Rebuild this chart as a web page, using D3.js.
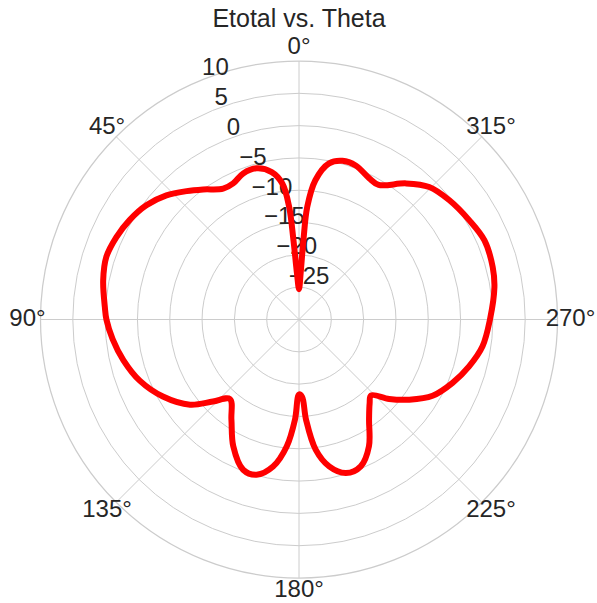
<!DOCTYPE html>
<html>
<head>
<meta charset="utf-8">
<script src="https://d3js.org/d3.v7.min.js"></script>
<style>
  html, body { margin: 0; padding: 0; background: #fff; }
  svg text { font-family: "Liberation Sans", Arial, sans-serif; fill: #262626; }
</style>
</head>
<body>
<div id="chart"></div>
<script>
// angle (deg, counter-clockwise from top) and Etotal (dB)
const thetaDeg = [
  0, 2.5, 4.0, 5.0, 7.0, 10.5, 15.7, 20.9, 25.8, 30.1, 36.4, 41.2, 46.9, 53.2, 59.6,
  65.7, 72.0, 78.7, 86.4, 90.0, 96.0, 103.0, 111.0, 119.5, 128.0, 133.6, 139.0,
  146.0, 152.6, 159.6, 164.7, 170.0, 174.5, 177.7, 180.0, 182.3, 184.0, 187.3,
  191.6, 197.0, 202.8, 208.9, 215.0, 220.0, 223.5, 228.6, 234.0, 240.3, 247.6,
  254.6, 261.7, 270.0, 279.4, 285.1, 293.1, 300.2, 308.4, 315.5, 321.8, 329.4,
  333.5, 339.8, 344.7, 349.1, 353.3, 355.8, 356.8, 358.0
];
const etotalDb = [
  -25.3, -22.9, -17.7, -12.5, -8.8, -6.8, -5.7, -5.8, -6.6, -6.6, -5.0, -3.6, -1.9, -0.5, 0.4,
  1.0, 1.35, 0.9, 0.1, -0.2, -1.0, -2.1, -3.6, -5.8, -8.6, -11.6, -13.7,
  -11.3, -7.9, -5.2, -5.1, -6.9, -10.3, -14.5, -18.4, -18.0, -14.5, -9.7,
  -6.8, -5.15, -5.35, -7.6, -11.1, -13.0, -13.8, -11.4, -8.9, -6.2, -4.3,
  -2.7, -1.3, -0.45, 0.65, 1.05, 1.2, 0.5, -0.3, -1.25, -3.2, -5.8,
  -5.6, -4.6, -4.55, -5.4, -8.3, -12.5, -17.7, -22.9
];
const radialTicks = [-25, -20, -15, -10, -5, 0, 5, 10];
const angleTicks = [0, 45, 90, 135, 180, 225, 270, 315];
const chartTitle = "Etotal vs. Theta";

const W = 597, H = 603;
const cx = 299, cy = 319.5, R = 258.5;
const rLabelAngle = 22.5;

const svg = d3.select("#chart").append("svg")
  .attr("width", W).attr("height", H);

svg.append("rect").attr("width", W).attr("height", H).attr("fill", "#fff");

const g = svg.append("g").attr("transform", `translate(${cx},${cy})`);

const r = d3.scaleLinear().domain([-30, 10]).range([0, R]);
const rad = d => d * Math.PI / 180;

// grid rings
g.selectAll("circle.ring")
  .data(radialTicks)
  .join("circle")
  .attr("class", "ring")
  .attr("r", d => r(d))
  .attr("fill", "none")
  .attr("stroke", "#cccccc")
  .attr("stroke-width", d => d === 10 ? 1.25 : 1);

// spokes
g.selectAll("line.spoke")
  .data(angleTicks)
  .join("line")
  .attr("class", "spoke")
  .attr("x1", 0).attr("y1", 0)
  .attr("x2", d => -R * Math.sin(rad(d)))
  .attr("y2", d => -R * Math.cos(rad(d)))
  .attr("stroke", "#cccccc")
  .attr("stroke-width", 1);

// angle labels
const labelR = R + 13;
g.selectAll("text.angle")
  .data(angleTicks)
  .join("text")
  .attr("class", "angle")
  .attr("x", d => -labelR * Math.sin(rad(d)))
  .attr("y", d => -labelR * Math.cos(rad(d)) + 6)
  .attr("text-anchor", "middle")
  .style("font-size", "24px")
  .text(d => d + "°");

// radial labels
g.selectAll("text.rlab")
  .data(radialTicks)
  .join("text")
  .attr("class", "rlab")
  .attr("x", d => -r(d) * Math.sin(rad(rLabelAngle)) + 2)
  .attr("y", d => -r(d) * Math.cos(rad(rLabelAngle)) - 5.5)
  .attr("text-anchor", "start")
  .style("font-size", "24px")
  .text(d => (d < 0 ? "\u2212" + Math.abs(d) : d));

// pattern line
const pts = thetaDeg.map((t, i) => ({ theta: t, v: etotalDb[i] }));
const line = d3.lineRadial()
  .angle(d => -rad(d.theta))
  .radius(d => r(d.v))
  .curve(d3.curveCatmullRomClosed.alpha(0.5));

g.append("path")
  .datum(pts)
  .attr("d", line)
  .attr("fill", "none")
  .attr("stroke", "#ff0000")
  .attr("stroke-width", 6)
  .attr("stroke-linejoin", "round");

// title
svg.append("text")
  .attr("x", cx)
  .attr("y", 27)
  .attr("text-anchor", "middle")
  .style("font-size", "25px")
  .text(chartTitle);
</script>
</body>
</html>
